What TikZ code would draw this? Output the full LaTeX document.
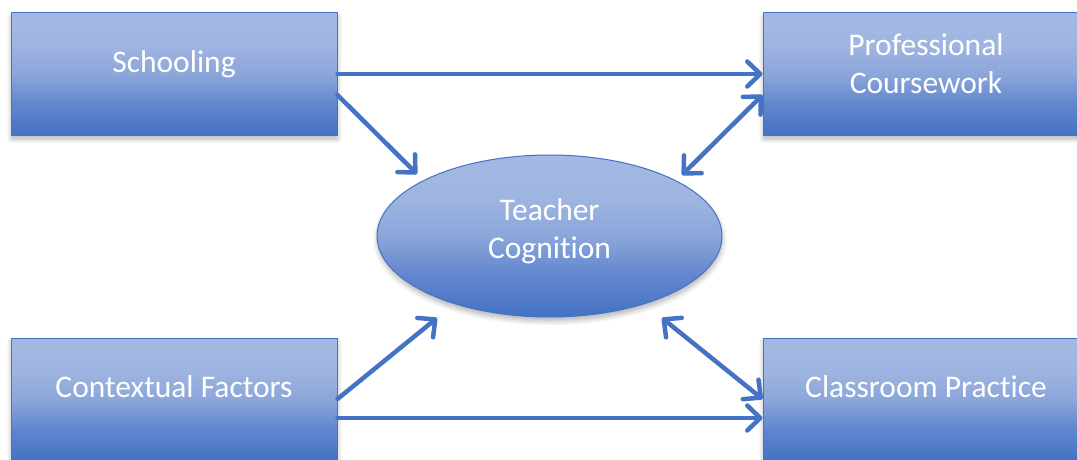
\documentclass[tikz,border=0pt]{standalone}
\usepackage{fontspec}
\setmainfont{Carlito}[Ligatures={NoCommon,NoRare}]
\usetikzlibrary{arrows.meta,shapes.geometric,shadows.blur,calc}

\definecolor{accent}{HTML}{4472C4}
\definecolor{accentlight}{HTML}{A3B8E2}
\definecolor{accentmid}{HTML}{8CA6DA}
\definecolor{accentlow}{HTML}{6287CE}

% light-to-dark fill, light at the top
\pgfdeclareverticalshading{softblue}{100bp}{%
  color(0bp)=(accent); color(25bp)=(accent); color(38bp)=(accentlow);
  color(50bp)=(accentmid); color(62bp)=(accentlight!96!accent);
  color(75bp)=(accentlight); color(100bp)=(accentlight)}

\begin{document}
\begin{tikzpicture}[x=1pt,y=-1pt,
  shape base/.style={draw=accent, line width=1pt, shading=softblue, inner sep=0pt,
    blur shadow={shadow xshift=0.5pt, shadow yshift=-4pt, shadow blur radius=5pt,
      shadow blur steps=6, shadow opacity=30}},
  box/.style={shape base, rectangle, minimum width=326pt, minimum height=122pt},
  oval/.style={shape base, ellipse, minimum width=345pt, minimum height=162pt},
  lbl/.style={text=white, align=center, inner sep=0pt,
    font=\fontsize{31.5}{38}\selectfont},
  barb/.tip={Straight Barb[length=13pt,width=25pt,line cap=round,line join=round]},
  arr/.style={accent, line width=4.5pt, line cap=round, line join=round, -barb},
  dbl/.style={arr, barb-barb}
]
\useasboundingbox (0,0) rectangle (1077,460);
\clip (0,0) rectangle (1077,460);

% boxes and the central oval
\node[box, label={[lbl, yshift=10pt]center:Schooling}] (school) at (174,74) {};
\node[box, label={[lbl, yshift=10pt]center:Professional\\Coursework}] (prof) at (926,74) {};
\node[box, label={[lbl, yshift=12pt]center:Contextual Factors}] (ctx) at (174,399) {};
\node[box, label={[lbl, yshift=12pt]center:Classroom Practice}] (cls) at (926,399) {};
\node[oval, label={[lbl, yshift=5pt]center:Teacher\\Cognition}] (tc) at (549.5,236) {};

% connectors
\draw[arr] (school.east) -- (prof.west);
\draw[arr] ($(school.east)+(0,21)$) -- ($(tc.center)+(-132.5,-62)$);
\draw[dbl] ($(prof.west)+(0,21)$) -- ($(tc.center)+(132.5,-61)$);
\draw[arr] (ctx.east) -- ($(tc.center)+(-112.5,82)$);
\draw[arr] ($(ctx.east)+(0,19)$) -- ($(cls.west)+(0,19)$);
\draw[dbl] ($(tc.center)+(112.5,82)$) -- (cls.west);
\end{tikzpicture}
\end{document}
